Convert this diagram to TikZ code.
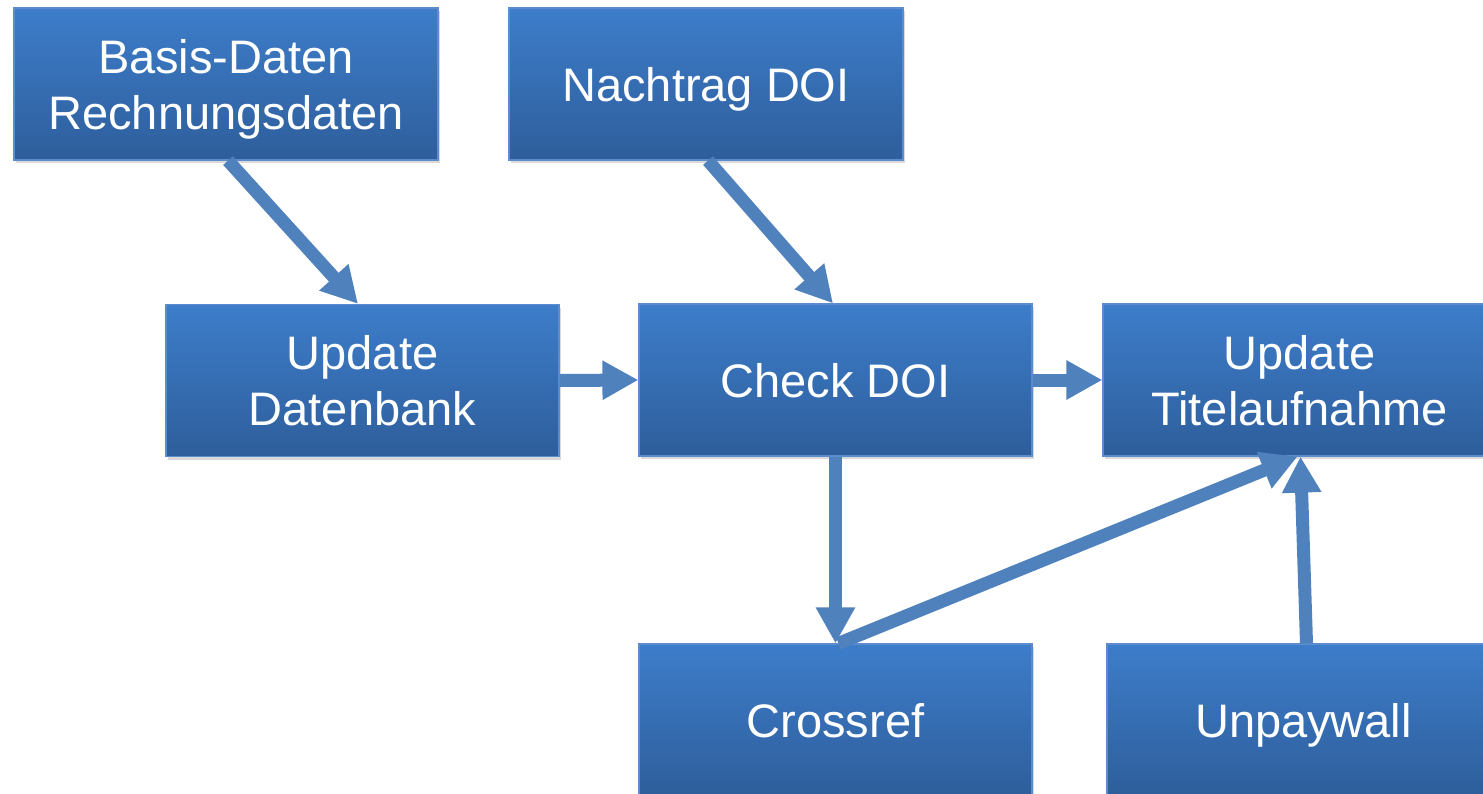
\documentclass[tikz,border=0pt]{standalone}
\usepackage{fontspec}
\setmainfont{Liberation Sans}
\usetikzlibrary{arrows.meta,shadows}
\definecolor{boxtop}{RGB}{61,125,202}
\definecolor{boxbot}{RGB}{46,94,155}
\definecolor{boxline}{RGB}{92,140,205}
\definecolor{arrcol}{RGB}{79,129,189}
\tikzset{
  box/.style={rectangle, draw=boxline, line width=1.2pt, top color=boxtop, bottom color=boxbot,
    text=white, align=center, inner sep=0pt, minimum height=152pt,
    font=\fontsize{47}{56}\selectfont, text depth=0pt,
    drop shadow={opacity=0.3, shadow xshift=2pt, shadow yshift=-3pt}},
  arr/.style={draw=arrcol, line width=13pt, -{Triangle[length=36pt,width=37pt]}}
}
\begin{document}
\begin{tikzpicture}[x=1pt,y=-1pt]
\useasboundingbox (0,0) rectangle (1483,793);
\node[box, minimum width=424pt] (basis) at (226,84) {Basis-Daten\\Rechnungsdaten};
\node[box, minimum width=394pt] (nach) at (706,84) {Nachtrag DOI};
\node[box, minimum width=393pt] (udb) at (362.5,380.5) {Update\\Datenbank};
\node[box, minimum width=393pt] (check) at (835.5,380) {Check DOI};
\node[box, minimum width=393pt] (titel) at (1299.5,380) {Update\\Titelaufnahme};
\node[box, minimum width=393pt] (cross) at (835.5,720) {Crossref};
\node[box, minimum width=393pt] (unpay) at (1303.5,720) {Unpaywall};
\draw[arr] ([xshift=2pt]basis.south) -- ([xshift=-4.5pt]udb.north);
\draw[arr] ([xshift=2pt]nach.south) -- ([xshift=-2.5pt]check.north);
\draw[arr] (udb.east) -- (check.west);
\draw[arr] (check.east) -- (titel.west);
\draw[arr] (check.south) -- (cross.north);
\draw[arr] ([xshift=3pt]cross.north) -- ([xshift=-2pt]titel.south);
\draw[arr] ([xshift=3pt]unpay.north) -- ([xshift=1pt]titel.south);
\end{tikzpicture}
\end{document}
